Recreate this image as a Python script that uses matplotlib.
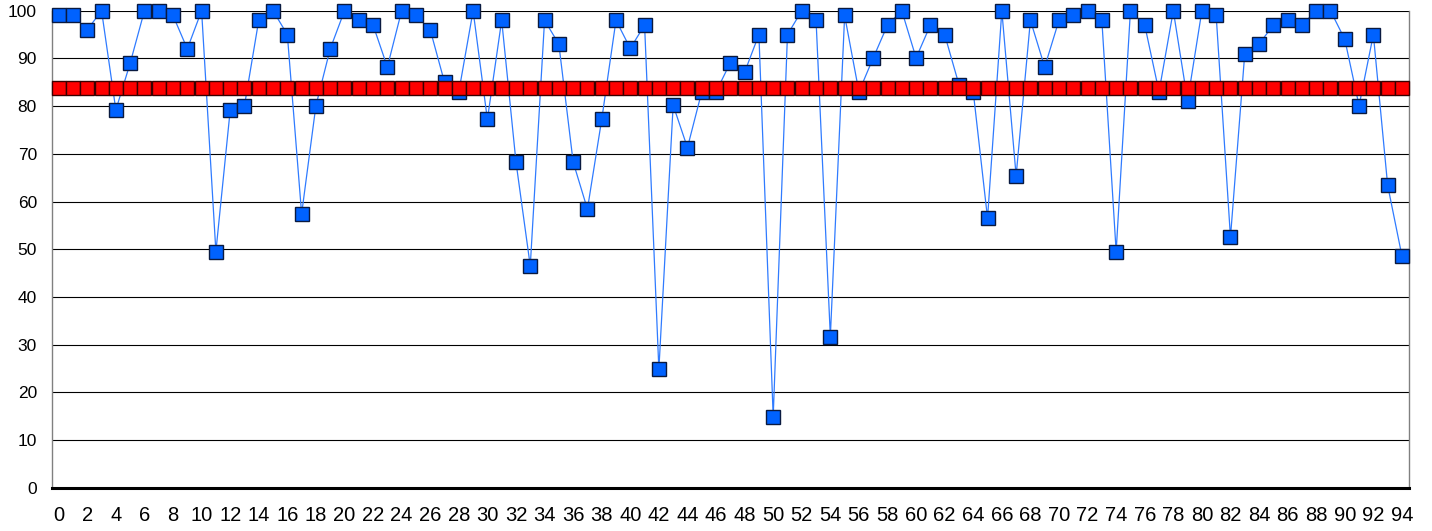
import numpy as np
import matplotlib.pyplot as plt

plt.rcParams['font.family'] = ['Liberation Sans', 'DejaVu Sans']

# valeurs
x = np.arange(95)
mesure = [99, 99, 96, 100, 79.2, 89, 100, 100, 99, 92,
          100, 49.5, 79.1, 80.1, 98, 100, 95, 57.4, 80.1, 92,
          100, 98, 97, 88.2, 100, 99, 96, 85, 83, 100,
          77.2, 98, 68.3, 46.5, 98, 93, 68.3, 58.4, 77.2, 98,
          92.1, 97, 24.8, 80.2, 71.3, 83, 83, 89.1, 87.1, 95,
          14.9, 95, 100, 98, 31.7, 99, 83, 90.1, 97, 100,
          90.1, 97, 95, 84.5, 83, 56.5, 100, 65.4, 98, 88.2,
          98, 99, 100, 98, 49.5, 100, 97, 83, 100, 81.1,
          100, 99, 52.5, 91, 93, 97, 98, 97, 100, 100,
          94, 80.1, 95, 63.4, 48.6]
moyenne = [83.8] * 95

fig = plt.figure(figsize=(14.32, 5.31), dpi=100)
ax = fig.add_axes([0.036, 0.0815, 0.948, 0.8983])

ax.plot(x, mesure, color='#2f7bff', lw=0.9, marker='s', markersize=9.5,
        markerfacecolor='#0062ff', markeredgecolor='#0a1a40',
        markeredgewidth=1.0, zorder=3, clip_on=False)
ax.plot(x, moyenne, color='#ff0000', lw=0.9, marker='s', markersize=9.5,
        markerfacecolor='#ff0000', markeredgecolor='#3a0000',
        markeredgewidth=1.0, zorder=4, clip_on=False)

ax.set_xlim(-0.5, 94.5)
ax.set_ylim(0, 100)
ax.set_xticks(np.arange(0, 95, 2))
ax.set_yticks(np.arange(0, 101, 10))
ax.tick_params(axis='both', length=0)
ax.tick_params(axis='x', pad=13, labelsize=14.5)
ax.tick_params(axis='y', pad=10.5, labelsize=12.5)

ax.yaxis.grid(True, color='black', lw=0.8)
ax.set_axisbelow(True)

for s in ['left', 'right']:
    ax.spines[s].set_color('#808080')
    ax.spines[s].set_linewidth(1.0)
ax.spines['top'].set_visible(False)
ax.spines['bottom'].set_color('black')
ax.spines['bottom'].set_linewidth(2.2)

fig.savefig('out.png', dpi=100)
